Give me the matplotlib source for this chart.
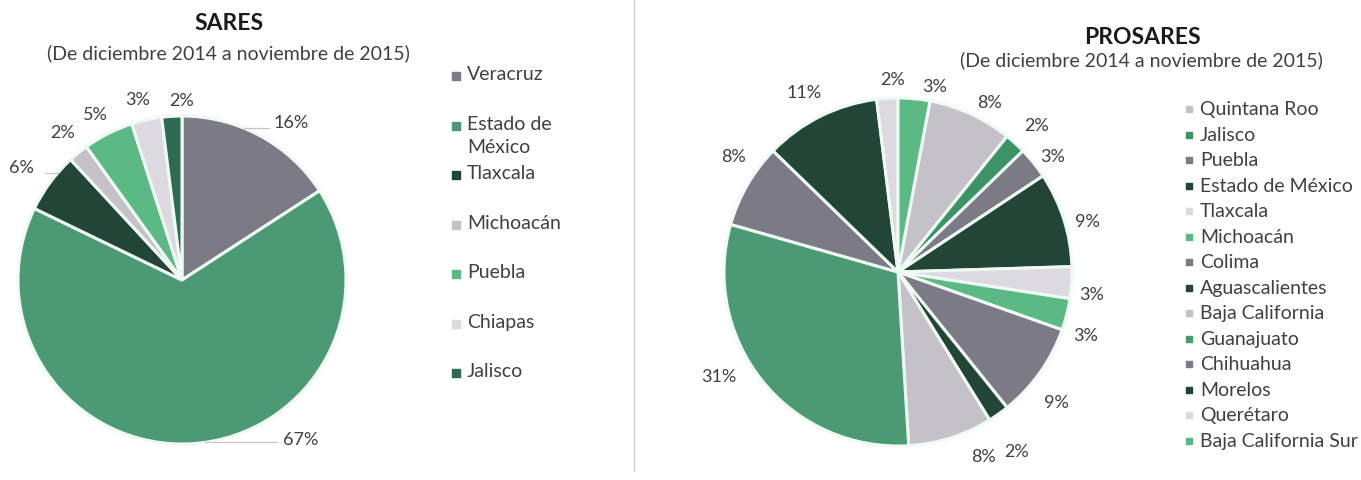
import numpy as np
import matplotlib
matplotlib.use('Agg')
import matplotlib.pyplot as plt

plt.rcParams['font.family'] = ['Lato', 'DejaVu Sans']

# colours used by both charts
gray = '#7c7a85'
dark = '#234536'
light = '#c4c1c9'
vlight = '#dcdae0'
mint = '#5cb985'
green = '#4b9a73'

# SARES
sares_states = ['Veracruz', 'Estado de\nMéxico', 'Tlaxcala', 'Michoacán', 'Puebla', 'Chiapas', 'Jalisco']
sares_pct = [16, 67, 6, 2, 5, 3, 2]
sares_colors = [gray, green, dark, light, mint, vlight, '#2f6a52']

# PROSARES
prosares_states = ['Quintana Roo', 'Jalisco', 'Puebla', 'Estado de México', 'Tlaxcala', 'Michoacán',
                   'Colima', 'Aguascalientes', 'Baja California', 'Guanajuato', 'Chihuahua',
                   'Morelos', 'Querétaro', 'Baja California Sur']
prosares_pct = [8, 2, 3, 9, 3, 3, 9, 2, 8, 31, 8, 11, 2, 3]
prosares_colors = [light, '#3d9266', gray, dark, vlight, mint, gray, dark, light, green, gray,
                   dark, vlight, mint]

subtitle = '(De diciembre 2014 a noviembre de 2015)'

# label placement (angle clockwise from 12 o'clock, distance in radii)
sares_lbl = [(34.8, 1.17), (143.4, 1.21), (305.2, 1.195), (321, 1.16), (332.3, 1.14), (346.3, 1.135), (0, 1.10)]
sares_leader = [0, 1, 2]
prosares_lbl = [(28.4, 1.11), (43.4, 1.16), (53.2, 1.11), (74.9, 1.125), (96.5, 1.12), (108.5, 1.14),
                (129.4, 1.18), (146.4, 1.235), (155.2, 1.165), (239.8, 1.19), (305.3, 1.155),
                (332.4, 1.17), (358.5, 1.11), (11.2, 1.09)]
prosares_leader = []

W, H = 1361, 481
txt = '#404040'
fig = plt.figure(figsize=(W / 100, H / 100), dpi=100)
fig.patch.set_facecolor('white')

ov = fig.add_axes([0, 0, 1, 1])
ov.set_xlim(0, W)
ov.set_ylim(H, 0)
ov.axis('off')


def polar(ang, r):
    a = np.radians(ang)
    return r * np.sin(a), r * np.cos(a)


def draw_pie(cx, cy, r, values, colors, lbl, leaders, lim=1.45):
    ax = fig.add_axes([(cx - r * lim) / W, (H - cy - r * lim) / H, 2 * r * lim / W, 2 * r * lim / H])
    start = 90 - 360 * values[-1] / sum(values) if len(values) > 7 else 90
    ax.pie(values, colors=colors, startangle=start, counterclock=False, radius=1,
           wedgeprops=dict(edgecolor='#f0faf4', linewidth=2.2))
    for i, v in enumerate(values):
        ang, dist = lbl[i]
        x, y = polar(ang, dist)
        ax.text(x, y, f'{v}%', ha='center', va='center', fontsize=13, color=txt)
        if i in leaders:
            # short horizontal leader from the label towards the pie edge
            ly = max(min(y - 0.035, 0.99), -0.99)
            side = 1 if x > 0 else -1
            ex = side * np.sqrt(1 - ly ** 2)
            lx = x - side * 0.14
            ax.plot([ex, lx], [ly, ly], color='#c4c4c4', lw=0.8)
    ax.set_xlim(-lim, lim)
    ax.set_ylim(-lim, lim)
    ax.axis('off')
    return ax


draw_pie(182, 281, 164, sares_pct, sares_colors, sares_lbl, sares_leader)
draw_pie(898, 273, 174, prosares_pct, prosares_colors, prosares_lbl, prosares_leader)

# titles
ov.text(229, 24, 'SARES', ha='center', va='center', fontsize=16.5, fontweight='bold', color='#1a1a1a')
ov.text(228, 53, subtitle, ha='center', va='center', fontsize=14, color=txt)
ov.text(1142, 37, 'PROSARES', ha='center', va='center', fontsize=16.5, fontweight='bold', color='#1a1a1a')
ov.text(1141, 60, subtitle, ha='center', va='center', fontsize=14, color=txt)

# separator
ov.plot([634, 634], [0, 472], color='#cccccc', lw=1)

# legends
for i, (name, c) in enumerate(zip(sares_states, sares_colors)):
    y = 77 + i * 49.5
    ov.scatter([456], [y], marker='s', s=30, color=c)
    ov.text(467, y - 10.5, name, ha='left', va='top', fontsize=14, color=txt, linespacing=1.42)

for i, (name, c) in enumerate(zip(prosares_states, prosares_colors)):
    y = 110 + i * 25.5
    ov.scatter([1189], [y], marker='s', s=22, color=c)
    ov.text(1200, y, name, ha='left', va='center', fontsize=14, color=txt)

fig.savefig('out.png', dpi=100, facecolor='white')
